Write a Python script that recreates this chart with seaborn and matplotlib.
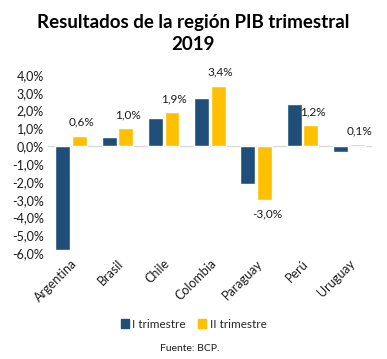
import pandas as pd
import matplotlib.pyplot as plt
import seaborn as sns
from matplotlib.patches import Patch

# datos (%)
paises = ['Argentina', 'Brasil', 'Chile', 'Colombia', 'Paraguay', 'Perú', 'Uruguay']
trim_1 = [-5.8, 0.5, 1.6, 2.7, -2.1, 2.4, -0.3]
trim_2 = [0.6, 1.0, 1.9, 3.4, -3.0, 1.2, 0.1]
series = ['I trimestre', 'II trimestre']
colores = ['#1F4E79', '#FFC000']
y_ticks = [-6, -5, -4, -3, -2, -1, 0, 1, 2, 3, 4]

df = pd.DataFrame({'pais': paises * 2,
                   'valor': trim_1 + trim_2,
                   'serie': [series[0]] * 7 + [series[1]] * 7})

sns.set_style('white')
plt.rcParams['font.family'] = ['Lato', 'DejaVu Sans']

fig = plt.figure(figsize=(3.87, 3.59), dpi=100)
ax = fig.add_axes([0.124, 0.295, 0.837, 0.496])

sns.barplot(data=df, x='pais', y='valor', hue='serie', palette=colores, saturation=1,
            width=0.72, gap=0.1, ax=ax, legend=False)

ax.set_ylim(-6, 4)
ax.set_yticks(y_ticks)
ax.set_yticklabels([f'{v:.1f}%'.replace('.', ',') for v in y_ticks], fontsize=9, color='#1a1a1a')
ax.set_xlim(-0.5, len(paises) - 0.5)
ax.set_xticks(range(len(paises)))
ax.set_xticklabels(paises, rotation=45, ha='right', rotation_mode='anchor', fontsize=9, color='#1a1a1a')
ax.tick_params(axis='both', length=0, pad=3)
ax.set_xlabel('')
ax.set_ylabel('')
for s in ax.spines.values():
    s.set_visible(False)
ax.axhline(0, color='#D9D9D9', lw=1, zorder=0)

# etiquetas solo para II trimestre
for bar, v in zip(ax.containers[1], trim_2):
    x = bar.get_x() + bar.get_width() / 2 + 0.05
    off = 0.75 if v >= 0 else -0.8
    ax.text(x, v + off, f'{v:.1f}%'.replace('.', ','), ha='center', va='center',
            fontsize=8.5, color='#1a1a1a')

fig.text(0.5, 0.937, 'Resultados de la región PIB trimestral', ha='center', va='center',
         fontsize=13.5, fontweight='bold', color='black')
fig.text(0.5, 0.875, '2019', ha='center', va='center',
         fontsize=13.5, fontweight='bold', color='black')

handles = [Patch(color=c, label=s) for c, s in zip(colores, series)]
fig.legend(handles=handles, loc='center', bbox_to_anchor=(0.5, 0.097), ncol=2, frameon=False,
           fontsize=8.5, handlelength=0.7, handleheight=0.7, handletextpad=0.3, columnspacing=1.0)

fig.text(0.49, 0.03, 'Fuente: BCP.', ha='center', va='center', fontsize=7.5, color='#1a1a1a')

fig.savefig('out.png', dpi=100)
